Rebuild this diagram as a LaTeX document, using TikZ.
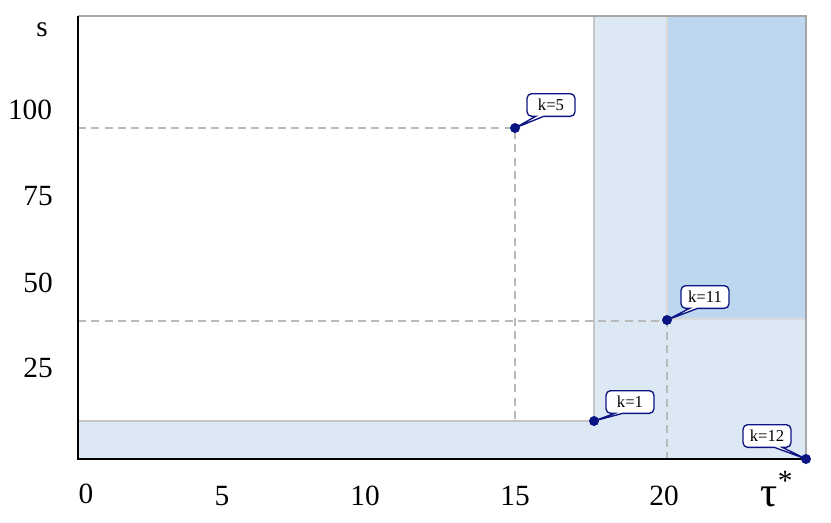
\documentclass[tikz,border=0pt]{standalone}
\usepackage{fontspec}
\setmainfont{Liberation Serif}
\usetikzlibrary{shapes.callouts}
\definecolor{lb}{RGB}{221,232,245}
\definecolor{db}{RGB}{189,215,238}
\definecolor{nv}{RGB}{10,20,130}
\tikzset{
  dashline/.style={draw=gray!55,dash pattern=on 6pt off 4pt,line width=1.1pt},
  dotpt/.style={circle,fill=nv,inner sep=0pt,minimum size=7.5pt},
  call/.style={rectangle callout,rounded corners=3.5pt,draw=nv,fill=white,line width=1pt,font=\fontsize{12.5}{14}\selectfont,inner sep=2.5pt,minimum height=17pt,minimum width=36pt,callout pointer width=6pt},
  ax/.style={font=\fontsize{22}{24}\selectfont}
}
\begin{document}
\begin{tikzpicture}[x=0.75pt,y=-0.75pt]
\useasboundingbox (0,0) rectangle (831,522);
\fill[lb] (78,421) rectangle (594,459);
\fill[lb] (594,16) rectangle (806,459);
\fill[db] (667,16) rectangle (806,319);
\draw[gray!45,line width=0.8pt] (78,421) -- (594,421) -- (594,16);
\draw[gray!30,line width=0.8pt] (667,16) -- (667,319) -- (806,319);
\draw[gray!70,line width=0.8pt] (78,16) -- (806,16) -- (806,459);
\draw[dashline] (78,128) -- (515,128) -- (515,421);
\draw[dashline] (78,321) -- (667,321) -- (667,459);
\draw[black,line width=1.2pt] (78,16) -- (78,459) -- (806,459);
\node[dotpt] (p5) at (515,128) {};
\node[dotpt] (p11) at (667,320) {};
\node[dotpt] (p1) at (594,421) {};
\node[dotpt] (p12) at (806,459) {};
\node[call,callout absolute pointer=(p5.center)] (c5) at (551,105) {k=5};
\node[call,callout absolute pointer=(p11.center)] (c11) at (705,297) {k=11};
\node[call,callout absolute pointer=(p1.center)] (c1) at (630,402) {k=1};
\node[call,callout absolute pointer=(p12.center)] (c12) at (767,436) {k=12};
\node[ax] (ls) at (42,30) {s};
\node[ax] (l100) at (30,110) {100};
\node[ax] (l75) at (38,196) {75};
\node[ax] (l50) at (38,283) {50};
\node[ax] (l25) at (38,368) {25};
\node[ax] (x0) at (86,494) {0};
\node[ax] (x5) at (222,496) {5};
\node[ax] (x10) at (365,496) {10};
\node[ax] (x15) at (515,496) {15};
\node[ax] (x20) at (664,496) {20};
\node[font=\fontsize{32}{34}\selectfont,anchor=base west] (tau) at (756,506) {τ\raisebox{12pt}{\fontsize{22}{24}\selectfont*}};
\end{tikzpicture}
\end{document}
